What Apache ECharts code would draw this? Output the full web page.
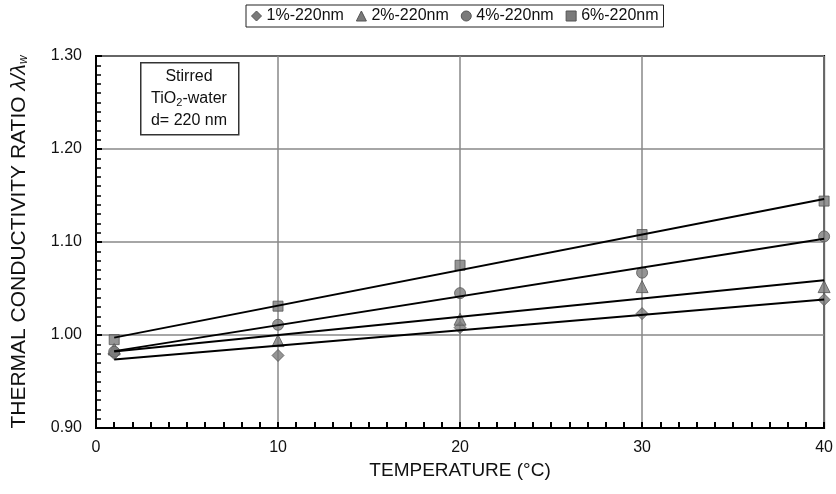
<!DOCTYPE html>
<html>
<head>
<meta charset="utf-8">
<script src="https://cdn.jsdelivr.net/npm/echarts@6/dist/echarts.min.js"></script>
<style>
html,body{margin:0;padding:0;background:#fff;}
#c{width:836px;height:494px;}
</style>
</head>
<body>
<div id="c"></div>
<script>
// Data
var temps = [1, 10, 20, 30, 40];
var seriesNames = ['1%-220nm', '2%-220nm', '4%-220nm', '6%-220nm'];
var ratio1 = [0.980, 0.978, 1.008, 1.023, 1.038];
var ratio2 = [0.985, 0.994, 1.017, 1.052, 1.052];
var ratio4 = [0.982, 1.011, 1.045, 1.067, 1.106];
var ratio6 = [0.995, 1.031, 1.075, 1.108, 1.144];
var fitRange = [1, 40];
var symbols = ['diamond', 'triangle', 'circle', 'rect'];
var symbolSizes = [12, 12, 11, 10];

var FONT = '"Liberation Sans", Arial, sans-serif';

function linFit(xs, ys) {
  var n = xs.length, mx = 0, my = 0;
  for (var i = 0; i < n; i++) { mx += xs[i]; my += ys[i]; }
  mx /= n; my /= n;
  var sxx = 0, sxy = 0;
  for (var j = 0; j < n; j++) { sxx += (xs[j]-mx)*(xs[j]-mx); sxy += (xs[j]-mx)*(ys[j]-my); }
  var b = sxy / sxx, a = my - b * mx;
  return fitRange.map(function (x) { return [x, a + b * x]; });
}

var allRatios = [ratio1, ratio2, ratio4, ratio6];
var series = [];
allRatios.forEach(function (arr, k) {
  series.push({
    name: seriesNames[k],
    type: 'line',
    data: linFit(temps, arr),
    showSymbol: false,
    symbol: 'none',
    lineStyle: { color: '#000', width: 2 },
    z: 5,
    silent: true,
    legendHoverLink: false
  });
});
allRatios.forEach(function (arr, k) {
  series.push({
    name: seriesNames[k],
    type: 'scatter',
    symbol: symbols[k],
    symbolSize: symbolSizes[k],
    data: temps.map(function (t, i) { return [t, arr[i]]; }),
    itemStyle: { color: '#7a7a7a', borderColor: '#555', borderWidth: 1 },
    z: 3
  });
});

var chart = echarts.init(document.getElementById('c'), null, { renderer: 'canvas' });
chart.setOption({
  animation: false,
  backgroundColor: '#fff',
  textStyle: { fontFamily: FONT },
  legend: {
    data: seriesNames.map(function (n, k) { return { name: n, icon: symbols[k] }; }),
    top: 5,
    left: 246,
    itemWidth: 10,
    itemHeight: 10,
    itemGap: 12,
    textStyle: { fontFamily: FONT, fontSize: 16, color: '#111' },
    itemStyle: { color: '#7a7a7a', borderColor: '#555', borderWidth: 1 },
    padding: [3, 5],
    borderColor: '#222',
    borderWidth: 1
  },
  grid: {
    left: 96, right: 11, top: 56, bottom: 66,
    show: true, borderColor: '#000', borderWidth: 2, backgroundColor: 'transparent'
  },
  xAxis: {
    type: 'value',
    min: 0, max: 40, interval: 10,
    name: 'TEMPERATURE (°C)',
    nameLocation: 'middle',
    nameGap: 32,
    nameTextStyle: { fontFamily: FONT, fontSize: 19, color: '#111' },
    axisLine: { lineStyle: { color: '#000', width: 2 } },
    axisTick: { inside: true, length: 6, lineStyle: { color: '#000', width: 2 } },
    minorTick: { show: true, splitNumber: 10, length: 6, lineStyle: { color: '#000', width: 2 } },
    axisLabel: { fontFamily: FONT, fontSize: 16, color: '#111', margin: 12 },
    splitLine: { show: true, lineStyle: { color: '#888', width: 1.5 } }
  },
  yAxis: {
    type: 'value',
    min: 0.9, max: 1.3, interval: 0.1,
    name: 'THERMAL CONDUCTIVITY RATIO {l|λ/λ}{s|w}',
    nameLocation: 'middle',
    nameGap: 66,
    nameRotate: 90,
    nameTextStyle: {
      fontFamily: FONT, fontSize: 21, color: '#111',
      rich: {
        l: { fontFamily: FONT, fontSize: 21, color: '#111', fontStyle: 'italic' },
        s: { fontFamily: FONT, fontSize: 12, color: '#111', fontStyle: 'italic', padding: [9, 0, 0, 0] }
      }
    },
    axisLine: { lineStyle: { color: '#000', width: 2 } },
    axisTick: { inside: true, length: 6, lineStyle: { color: '#000', width: 2 } },
    minorTick: { show: true, splitNumber: 10, length: 5, lineStyle: { color: '#000', width: 1.5 } },
    axisLabel: { fontFamily: FONT, fontSize: 16, color: '#111', margin: 14, formatter: function (v) { return v.toFixed(2); } },
    splitLine: { show: true, lineStyle: { color: '#888', width: 1.5 } }
  },
  graphic: [
    { type: 'rect', left: 140, top: 62, shape: { width: 98, height: 72 },
      style: { fill: '#fff', stroke: '#333', lineWidth: 1.5 }, z: 10 },
    { type: 'text', left: 146, top: 66, z: 11,
      style: {
        text: 'Stirred\nTiO{s|2}-water\nd= 220 nm',
        x: 0, y: 0,
        textAlign: 'center',
        font: '16px ' + FONT,
        fill: '#111',
        lineHeight: 22,
        width: 86,
        rich: { s: { fontSize: 11, fontFamily: FONT, fill: '#111', padding: [8, 0, 0, 0] } }
      } }
  ],
  series: series
});
</script>
</body>
</html>
